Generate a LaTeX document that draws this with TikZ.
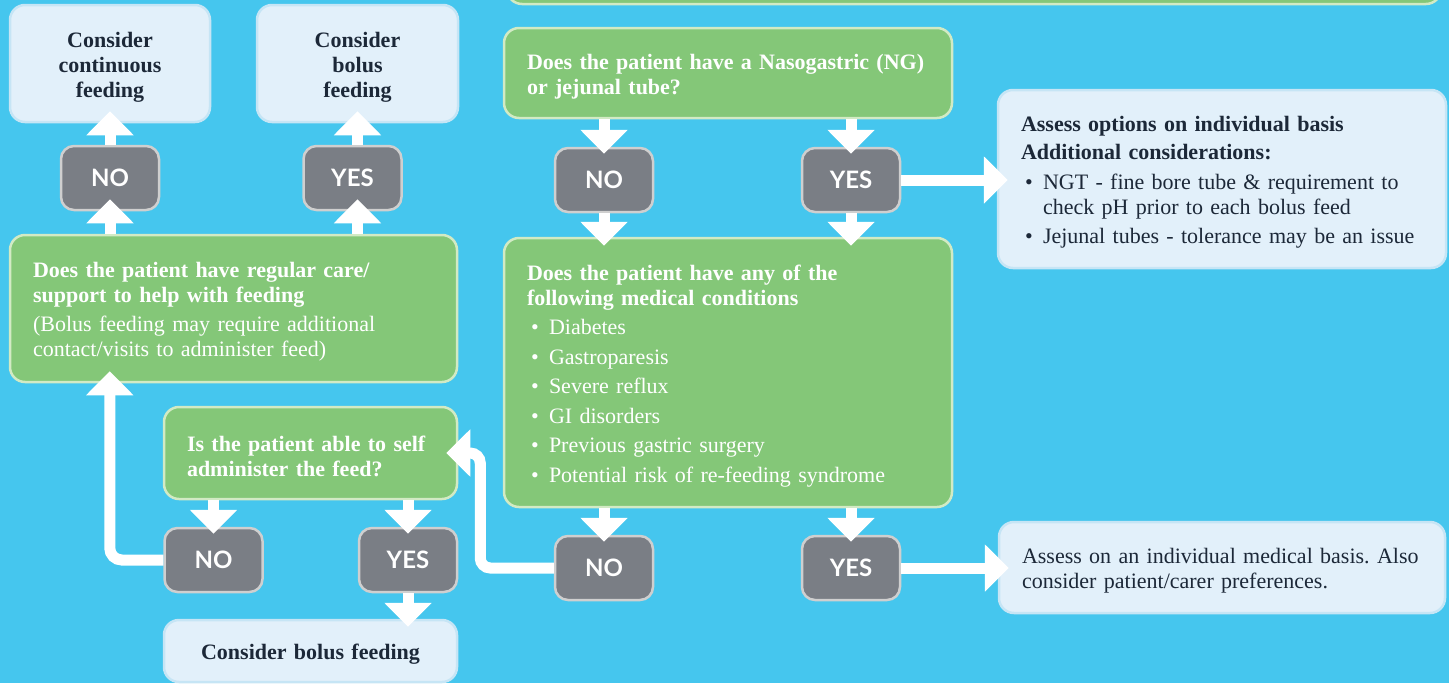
\documentclass[tikz,border=0pt]{standalone}
\usepackage{fontspec}
\setmainfont{Liberation Serif}
\newfontfamily\btnfont{Lato}
\usetikzlibrary{arrows.meta,positioning}
\frenchspacing

\definecolor{sky}{HTML}{45C6EE}
\definecolor{leaf}{HTML}{84C778}
\definecolor{leafline}{HTML}{D2EAC4}
\definecolor{pale}{HTML}{E2F0FA}
\definecolor{paleline}{HTML}{C6E5F5}
\definecolor{slate}{HTML}{7A7E85}
\definecolor{slateline}{HTML}{CFCFCF}
\definecolor{ink}{HTML}{1C2838}

\newcommand{\bul}[1]{\par\vspace{4.5pt}\hangindent=22pt\hangafter=1\noindent\makebox[22pt][l]{\hspace{4pt}\textbullet}#1}

\begin{document}
\begin{tikzpicture}[x=1pt,y=-1pt,
	question/.style={draw=leafline, fill=leaf, line width=2.5pt, rounded corners=15pt, text=white, inner xsep=23pt, inner ysep=2pt, align=left, font=\fontsize{22}{25}\selectfont, execute at begin node={\rule{0pt}{22pt}}},
	outcome/.style={draw=paleline, fill=pale, line width=2.5pt, rounded corners=15pt, text=ink, inner xsep=23pt, inner ysep=2pt, align=left, font=\fontsize{22}{25}\selectfont, execute at begin node={\rule{0pt}{22pt}}},
	answer/.style={draw=slateline, fill=slate, line width=2.5pt, rounded corners=13pt, text=white, minimum width=98pt, minimum height=64pt, font=\btnfont\bfseries\fontsize{24}{24}\selectfont},
	flow/.style={draw=white, line width=11pt, -{Triangle[length=24pt,width=46pt]}, shorten >=-12pt}]
	\useasboundingbox (0,0) rectangle (1449,683);
	\fill[sky] (0,0) rectangle (1449,683);
	\clip (0,0) rectangle (1449,683);

	\node[question, minimum width=934pt, minimum height=60pt, execute at begin node={}] (prev) at (974,-26) {};

	\node[outcome, text width=154pt, minimum height=117pt, align=center] (cont) at (110,63.5) {\bfseries Consider\\ continuous\\ feeding};
	\node[outcome, text width=155pt, minimum height=117pt, align=center] (bolus1) at (357.5,63.5) {\bfseries Consider\\ bolus\\ feeding};
	\node[answer] (no1) at (110,178) {NO};
	\node[answer] (yes1) at (352.5,178) {YES};
	\node[question, text width=401pt, minimum height=147pt] (care) at (233.5,308.5) {{\bfseries Does the patient have regular care/\\ support to help with feeding}\par\vspace{4pt}(Bolus feeding may require additional\\ contact/visits to administer feed)};
	\node[question, text width=247pt, minimum height=92pt] (self) at (310.5,453) {\bfseries Is the patient able to self\\ administer the feed?};
	\node[answer] (no3) at (213.5,560) {NO};
	\node[answer] (yes3) at (408,560) {YES};
	\node[outcome, text width=247pt, minimum height=62pt, align=center] (bolus2) at (310.5,651) {\bfseries Consider bolus feeding};

	\node[question, text width=402pt, minimum height=90pt] (tube) at (728,73) {\bfseries \mbox{Does the patient have a Nasogastric (NG)}\\ or jejunal tube?};
	\node[answer] (no2) at (604,180) {NO};
	\node[answer] (yes2) at (851,180) {YES};
	\node[outcome, text width=402pt, minimum height=178pt] (opts) at (1222,179) {{\bfseries Assess options on individual basis\\[3pt] Additional considerations:}
		\bul{NGT - fine bore tube \& requirement to\newline check pH prior to each bolus feed}
		\bul{Jejunal tubes - tolerance may be an issue}};
	\node[question, text width=402pt, minimum height=269pt] (cond) at (728,372.5) {{\bfseries Does the patient have any of the\\ following medical conditions}
		\bul{Diabetes}
		\bul{Gastroparesis}
		\bul{Severe reflux}
		\bul{GI disorders}
		\bul{Previous gastric surgery}
		\bul{Potential risk of re-feeding syndrome}};
	\node[answer] (no4) at (604,568) {NO};
	\node[answer] (yes4) at (851,568) {YES};
	\node[outcome, text width=400pt, minimum height=91pt] (medic) at (1222,567.5) {\mbox{Assess on an individual medical basis. Also}\\ consider patient/carer preferences.};

	\draw[flow] (no1.north) -- (no1.north |- cont.south);
	\draw[flow] (no1.south |- care.north) -- (no1.south);
	\draw[flow] (bolus1.south |- yes1.north) -- (bolus1.south);
	\draw[flow] (bolus1.south |- care.north) -- (bolus1.south |- yes1.south);
	\draw[flow, rounded corners=12pt] (no3.west) -| ([xshift=101pt]care.south west);
	\draw[flow, shorten >=-7pt] (no3.north |- self.south) -- (no3.north);
	\draw[flow, shorten >=-7pt] (yes3.north |- self.south) -- (yes3.north);
	\draw[flow, shorten >=-8pt] (yes3.south) -- (yes3.south |- bolus2.north);

	\draw[flow, shorten >=-7pt] (no2.north |- tube.south) -- (no2.north);
	\draw[flow, shorten >=-7pt] (yes2.north |- tube.south) -- (yes2.north);
	\draw[flow, shorten >=-9pt] (no2.south) -- (no2.south |- cond.north);
	\draw[flow, shorten >=-9pt] (yes2.south) -- (yes2.south |- cond.north);
	\draw[flow, shorten >=-11pt] (yes2.east) -- (yes2.east -| opts.west);
	\draw[flow, shorten >=-7pt] (no4.north |- cond.south) -- (no4.north);
	\draw[flow, shorten >=-7pt] (yes4.north |- cond.south) -- (yes4.north);
	\draw[flow, shorten >=-11pt] (yes4.east) -- (yes4.east -| medic.west);
	\draw[flow, rounded corners=10pt] (no4.west) -| ([xshift=22pt]self.east) -- (self.east);
\end{tikzpicture}
\end{document}
